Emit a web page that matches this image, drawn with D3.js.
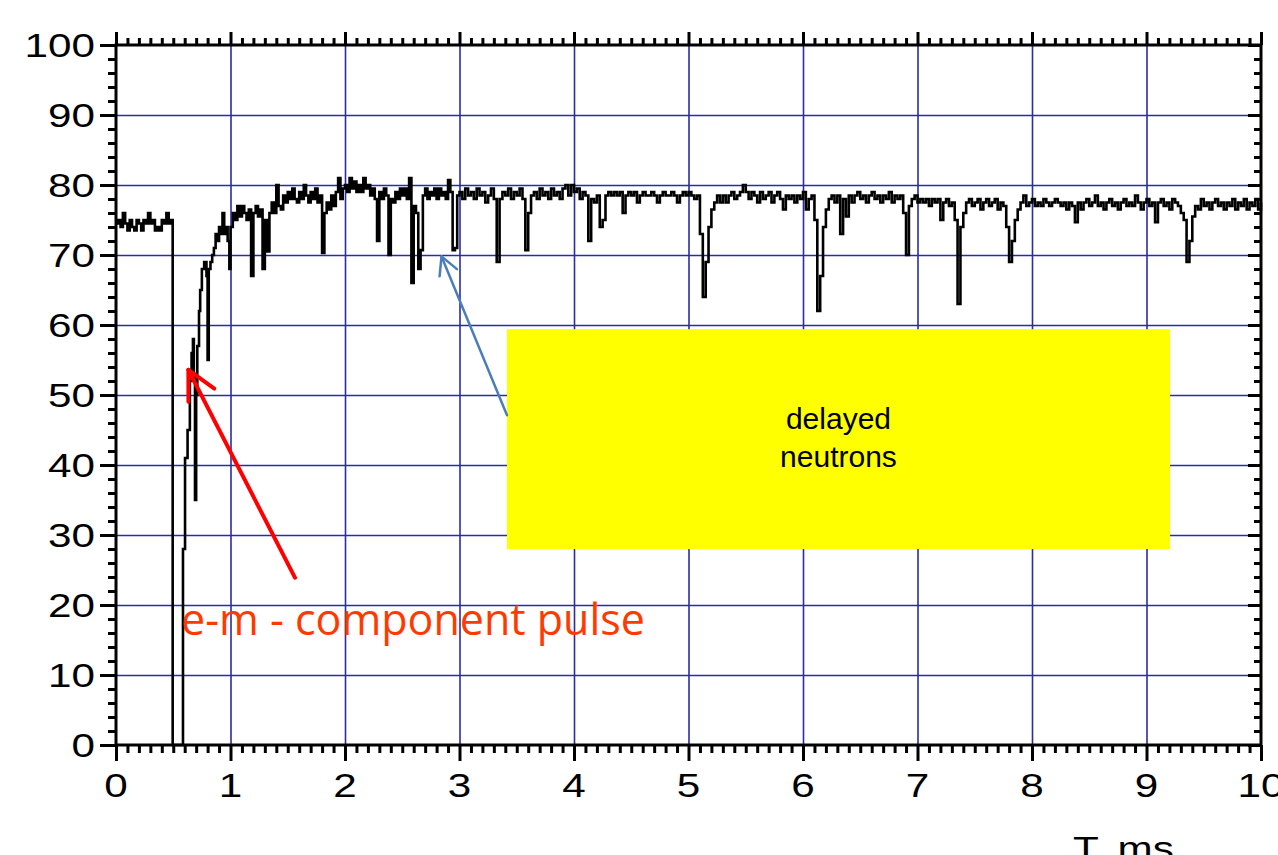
<!DOCTYPE html>
<html>
<head>
<meta charset="utf-8">
<script src="https://cdn.jsdelivr.net/npm/d3@7"></script>
<style>
  html, body { margin: 0; background: #fff; }
  svg { display: block; }
</style>
</head>
<body>
<div id="view"></div>
<script>
// ---- data (T in ms, signal in arbitrary units) ----
const X_TICKS = [0, 1, 2, 3, 4, 5, 6, 7, 8, 9, 10];
const Y_TICKS = [0, 10, 20, 30, 40, 50, 60, 70, 80, 90, 100];
const X_LABEL = "T, ms";

// before the pulse: t = 0 .. 0.48, every 0.02 ms
const preVals = [74.5, 75, 74, 76, 74.5, 73.5, 75, 74, 73.5, 75, 74.5, 73.5, 75,
  74.5, 76, 74.5, 75, 73.5, 74, 73.5, 75, 74.5, 76, 74.5, 75];

// the pulse itself and the fast recovery: [t, value]
const pulsePts = [
  [0.495, 0], [0.585, 28], [0.603, 41], [0.625, 45], [0.645, 52], [0.66, 56],
  [0.672, 58], [0.68, 53], [0.69, 35], [0.70, 50], [0.71, 57], [0.725, 62],
  [0.735, 65], [0.75, 68], [0.77, 69], [0.79, 67], [0.80, 55], [0.81, 68],
  [0.825, 69], [0.84, 70], [0.855, 71], [0.87, 73], [0.885, 72], [0.90, 74],
  [0.915, 73], [0.93, 76], [0.945, 73], [0.96, 74], [0.975, 72], [0.99, 68]
];

// t = 1.00 .. 2.98, every 0.02 ms
const riseVals = [
  74, 76, 75, 77, 75.5, 77, 76, 75, 76.5, 67,
  76, 77, 75.5, 76.5, 68, 75, 70.5, 76, 77.5, 76,
  80, 77, 76.5, 78.5, 77.5, 79, 78, 79.5, 78, 77.5,
  79, 78, 80, 78.5, 77.5, 79, 78, 79.5, 77.5, 78.5,
  70.3, 76, 77.5, 76.5, 78.5, 77, 79, 81, 78, 79.5,
  80, 79, 81, 79.5, 80.5, 79, 80, 79, 81, 79.5,
  80, 78.5, 79.5, 78, 72, 79, 78, 79.5, 78.5, 70,
  78, 77.5, 79, 78, 79.5, 78.5, 79.5, 78, 81, 66,
  77, 76, 68, 70.7, 78.5, 79.5, 78, 79, 78.5, 79.5,
  78, 79.5, 78.5, 79, 78, 80.7, 79, 70.7, 71, 78.5
];

// t = 3.000 .. 10.000, every 0.025 ms
const plateauVals = [
  79, 78, 79.5, 78.5, 79, 78, 79.5, 78.5, 79, 77.5,
  78.5, 79.5, 78, 69, 78, 79, 78.5, 79.5, 78, 79,
  78.5, 79.5, 78, 70.7, 76, 78.5, 79, 78, 79.5, 78.5,
  79, 78, 79.5, 78.5, 79, 78, 79.5, 80, 78.5, 80,
  79, 79.5, 78, 79, 78.5, 72, 78, 77.5, 78.5, 74,
  75, 78.5, 79, 78.5, 79, 78.5, 79, 76, 78.5, 79,
  78.5, 79, 77.5, 78.5, 79, 78.5, 78.5, 79, 78.5, 77.5,
  78.5, 79, 78.5, 78.5, 79, 78.5, 77.5, 78.5, 79, 78.5,
  79, 78.5, 78, 78.5, 73, 64, 69, 74, 76.5, 77.5,
  78.5, 77.5, 78.5, 77.5, 78.5, 79, 78, 78.5, 79, 80,
  79, 78, 79, 78.5, 77.5, 79, 78, 78.5, 79, 77.5,
  78.5, 79, 78, 76.5, 78.5, 78, 78.5, 77.5, 78.5, 78,
  79, 76.5, 78, 78.5, 75, 62, 67, 74, 76.5, 78,
  78.5, 77.5, 78.5, 73, 78, 75.5, 78.5, 77.5, 78.5, 79,
  78, 78.5, 77.5, 78.5, 79, 78, 78.5, 77.5, 78.5, 78,
  79, 77.5, 78.5, 78, 78.5, 76, 70, 77, 78, 78.5,
  77.5, 78, 77.5, 78, 77, 78, 77.5, 78, 75, 77.5,
  78, 77, 77.5, 75, 63, 74, 76, 77.5, 78, 77,
  77.5, 78, 76.5, 77.5, 78, 77, 77.5, 78, 76.5, 77.5,
  77, 74, 69, 72, 75, 76.5, 77.5, 78.5, 77, 77.5,
  78, 77, 77.5, 77, 78, 77.5, 77, 77.5, 78, 77.5,
  77, 77.5, 76.5, 77.5, 77, 74.7, 77.5, 76.5, 77.5, 78,
  77, 77.5, 78.5, 77, 77.5, 76.5, 77.5, 78, 77, 77.5,
  76.5, 77.5, 78, 77, 77.5, 77, 78.5, 77.5, 76.5, 77.5,
  78, 77, 77.5, 74.7, 77.5, 78, 77, 77.5, 76.5, 78,
  77.5, 77, 76, 75, 69, 72, 75.5, 77, 76.5, 78,
  77, 77.5, 76.5, 77.5, 78, 77, 77.5, 76.5, 77.5, 77,
  78, 76.5, 77.5, 77, 78, 76.5, 77.5, 77, 78, 76.5,
  77.5
];

// annotations (data units)
const BOX = { t0: 3.415, t1: 9.205, v0: 59.4, v1: 28.0, lines: ["delayed", "neutrons"] };
const RED_ARROW = { from: [1.563, 23.9], to: [0.632, 53.6] };
const BLUE_ARROW = { from: [3.415, 47.1], to: [2.843, 69.8] };
const EM_TEXT = "e-m - component pulse";

(function () {
  const W = 1278, H = 855;
  const M = { t: 45, r: 17, b: 110, l: 116 };
  const w = W - M.l - M.r, h = H - M.t - M.b;
  const SX = 1.28;              // tick font looks horizontally stretched
  const GRID = "#2b2ba6";

  // build trace
  const trace = [];
  preVals.forEach((v, i) => trace.push([i * 0.02, v]));
  pulsePts.forEach(p => trace.push(p));
  riseVals.forEach((v, i) => trace.push([1 + i * 0.02, v]));
  plateauVals.forEach((v, i) => trace.push([3 + i * 0.025, v]));

  const svg = d3.select("#view").append("svg")
    .attr("width", W).attr("height", H)
    .style("font-family", "'Liberation Sans', Arial, sans-serif");
  const g = svg.append("g").attr("transform", `translate(${M.l},${M.t})`);

  const x = d3.scaleLinear().domain([0, 10]).range([0, w]);
  const y = d3.scaleLinear().domain([0, 100]).range([h, 0]);

  // gridlines
  g.append("g")
    .call(d3.axisLeft(y).tickValues(Y_TICKS.slice(1, -1)).tickSize(-w).tickFormat(""))
    .call(s => s.select(".domain").remove())
    .selectAll("line").attr("stroke", GRID).attr("stroke-width", 1.6);
  g.append("g")
    .attr("transform", `translate(0,${h})`)
    .call(d3.axisBottom(x).tickValues(X_TICKS.slice(1, -1)).tickSize(-h).tickFormat(""))
    .call(s => s.select(".domain").remove())
    .selectAll("line").attr("stroke", GRID).attr("stroke-width", 1.6);

  // yellow box
  g.append("rect")
    .attr("x", x(BOX.t0)).attr("y", y(BOX.v0))
    .attr("width", x(BOX.t1) - x(BOX.t0))
    .attr("height", y(BOX.v1) - y(BOX.v0))
    .attr("fill", "#ffff00");
  g.append("text")
    .attr("x", (x(BOX.t0) + x(BOX.t1)) / 2)
    .attr("y", y(BOX.v0) + 100)
    .attr("text-anchor", "middle")
    .style("font-size", "30px")
    .selectAll("tspan").data(BOX.lines).join("tspan")
    .attr("x", (x(BOX.t0) + x(BOX.t1)) / 2)
    .attr("dy", (d, i) => i ? 38 : 0)
    .text(d => d);

  // trace
  const line = d3.line()
    .x(d => x(d[0]))
    .y(d => y(d[1]))
    .curve(d3.curveStepAfter);
  g.append("path")
    .datum(trace)
    .attr("fill", "none")
    .attr("stroke", "#000")
    .attr("stroke-width", 2.6)
    .attr("d", line);

  // ticks: minor + major on all four sides
  const xMinor = d3.range(0, 101).map(i => i / 10).filter(v => v % 1 !== 0);
  const yMinor = d3.range(0, 101, 2).filter(v => v % 10 !== 0);
  const tickStyle = s => {
    s.select(".domain").remove();
    s.selectAll("line").attr("stroke", "#000").attr("stroke-width", 3);
  };
  const sides = [
    [d3.axisBottom(x), `translate(0,${h})`, xMinor, X_TICKS, 8, 16],
    [d3.axisTop(x), "translate(0,0)", xMinor, X_TICKS, 7, 13],
    [d3.axisLeft(y), "translate(0,0)", yMinor, Y_TICKS, 8, 16],
    [d3.axisRight(y), `translate(${w},0)`, yMinor, Y_TICKS, -7, -13]
  ];
  sides.forEach(([ax, tr, minor, major, sMin, sMaj]) => {
    g.append("g").attr("transform", tr)
      .call(ax.tickValues(minor).tickSize(sMin).tickFormat("")).call(tickStyle);
    g.append("g").attr("transform", tr)
      .call(ax.tickValues(major).tickSize(sMaj).tickFormat("")).call(tickStyle);
  });

  // frame
  g.append("rect")
    .attr("width", w).attr("height", h)
    .attr("fill", "none").attr("stroke", "#000").attr("stroke-width", 3);

  // tick labels
  g.selectAll("text.ylab").data(Y_TICKS).join("text")
    .attr("class", "ylab")
    .attr("transform", d => `translate(-21,${y(d)}) scale(${SX},1)`)
    .attr("text-anchor", "end")
    .attr("dy", "0.36em")
    .style("font-size", "33px")
    .text(d => d);
  g.selectAll("text.xlab").data(X_TICKS).join("text")
    .attr("class", "xlab")
    .attr("transform", d => `translate(${x(d)},${h + 52}) scale(${SX},1)`)
    .attr("text-anchor", "middle")
    .style("font-size", "33px")
    .text(d => d);
  g.append("text")
    .attr("transform", `translate(${1073 - M.l},${h + 115}) scale(${SX},1)`)
    .style("font-size", "33px")
    .text(X_LABEL);

  // arrows
  function arrow(a, color, width, head, ang) {
    const [x0, y0] = [x(a.from[0]), y(a.from[1])];
    const [x1, y1] = [x(a.to[0]), y(a.to[1])];
    const th = Math.atan2(y0 - y1, x0 - x1);
    const r = ang * Math.PI / 180;
    const w1 = [x1 + head * Math.cos(th - r), y1 + head * Math.sin(th - r)];
    const w2 = [x1 + head * Math.cos(th + r), y1 + head * Math.sin(th + r)];
    const grp = g.append("g").attr("stroke", color).attr("stroke-width", width)
      .attr("fill", "none").attr("stroke-linecap", "round");
    grp.append("line").attr("x1", x0).attr("y1", y0).attr("x2", x1).attr("y2", y1);
    grp.append("path").attr("d", `M${w1}L${x1},${y1}L${w2}`).attr("stroke-linejoin", "round");
  }
  arrow(RED_ARROW, "#ff0000", 4, 32, 27);
  arrow(BLUE_ARROW, "#4a7ebb", 2.5, 20, 28);

  // red label
  g.append("text")
    .attr("x", 181 - M.l)
    .attr("y", 635 - M.t)
    .attr("fill", "#ff3a00")
    .style("font-family", "'Open Sans', sans-serif")
    .style("font-size", "43px")
    .text(EM_TEXT);
})();
</script>
</body>
</html>
